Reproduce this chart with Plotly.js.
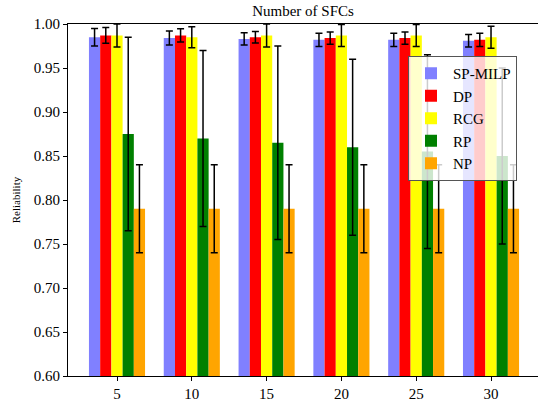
<!DOCTYPE html>
<html>
<head>
<meta charset="utf-8">
<script src="https://cdn.plot.ly/plotly-3.0.1.min.js"></script>
<style>html,body{margin:0;padding:0;background:#fff}#chart{width:538px;height:406px}</style>
</head>
<body>
<div id="chart"></div>
<script>
const categories = [5, 10, 15, 20, 25, 30];
const seriesNames = ["SP-MILP", "DP", "RCG", "RP", "NP"];
const spmilp = [0.985, 0.984, 0.983, 0.982, 0.982, 0.981];
const spmilpErr = [0.010, 0.008, 0.007, 0.0075, 0.0075, 0.007];
const dp = [0.987, 0.987, 0.985, 0.984, 0.984, 0.982];
const dpErr = [0.009, 0.0075, 0.0065, 0.007, 0.007, 0.0075];
const rcg = [0.987, 0.985, 0.987, 0.987, 0.987, 0.985];
const rcgErr = [0.013, 0.012, 0.013, 0.0125, 0.0125, 0.0125];
const rp = [0.875, 0.870, 0.865, 0.860, 0.855, 0.850];
const rpErr = [0.11, 0.10, 0.11, 0.10, 0.11, 0.10];
const npv = [0.79, 0.79, 0.79, 0.79, 0.79, 0.79];
const npErr = [0.05, 0.05, 0.05, 0.05, 0.05, 0.05];

const colors = ["#8080ff", "#ff0000", "#ffff00", "#008000", "#ffa500"];
const values = [spmilp, dp, rcg, rp, npv];
const errs = [spmilpErr, dpErr, rcgErr, rpErr, npErr];

const font = "Liberation Serif, Times New Roman, serif";

const traces = seriesNames.map((name, i) => ({
  type: "bar",
  name: name,
  x: categories,
  y: values[i],
  marker: {color: colors[i], line: {width: 0}},
  error_y: {type: "data", array: errs[i], visible: true, color: "#000", thickness: 1.5, width: 3.5}
}));

const layout = {
  width: 538, height: 406,
  margin: {l: 68, r: 0, t: 24, b: 30},
  paper_bgcolor: "#fff", plot_bgcolor: "#fff",
  font: {family: font, color: "#000", size: 15},
  barmode: "group", bargap: 0.25, bargroupgap: 0,
  showlegend: true,
  title: {text: "Number of SFCs", font: {family: font, size: 15, color: "#000"},
          x: 0.5, xref: "paper", y: 1 - 11/406, yref: "container", yanchor: "middle"},
  xaxis: {
    range: [1.725, 33.14], tickvals: categories, ticktext: categories.map(String),
    showgrid: false, zeroline: false, showline: true, linecolor: "#000", linewidth: 1, mirror: true,
    ticks: "outside", ticklen: 4, tickcolor: "#000", tickfont: {family: font, size: 15, color: "#000"}
  },
  yaxis: {
    range: [0.6, 1.0], dtick: 0.05, tick0: 0.6, tickformat: ".2f",
    showgrid: false, zeroline: false, showline: true, linecolor: "#000", linewidth: 1,
    ticks: "outside", ticklen: 4, tickcolor: "#000", tickfont: {family: font, size: 15, color: "#000"},
    title: {text: "Reliability", font: {family: font, size: 11, color: "#000"}, standoff: 10}
  },
  legend: {
    x: (408 - 68) / 470, xanchor: "left", y: (376 - 56) / 352, yanchor: "top",
    bgcolor: "rgba(255,255,255,0.8)", bordercolor: "#555", borderwidth: 1,
    itemwidth: 34,
    font: {family: font, size: 15, color: "#000"}, traceorder: "normal"
  }
};

Plotly.newPlot("chart", traces, layout, {displayModeBar: false, staticPlot: true});
</script>
</body>
</html>
